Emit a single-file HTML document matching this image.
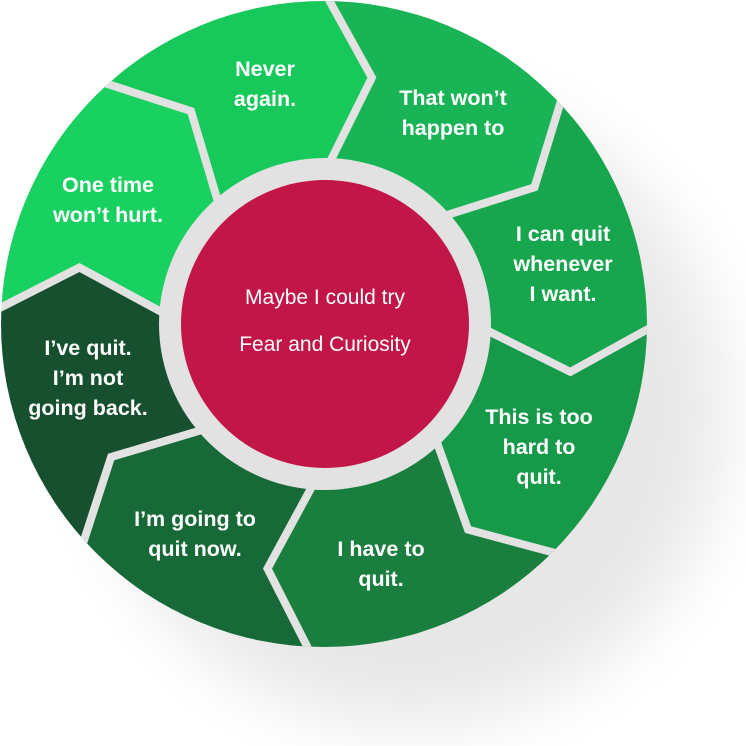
<!DOCTYPE html>
<html><head><meta charset="utf-8"><style>
html,body{margin:0;padding:0;background:#fff;width:746px;height:746px;overflow:hidden}
svg{display:block}
.t{font-family:"Liberation Sans",sans-serif;font-weight:bold;font-size:21.5px;fill:#fff;text-anchor:middle}
.c{font-family:"Liberation Sans",sans-serif;font-size:21px;fill:#fff;text-anchor:middle}
</style></head><body>
<svg id="s" width="746" height="746" viewBox="0 0 746 746" xmlns="http://www.w3.org/2000/svg">
<defs>
<filter id="bl" x="-50%" y="-50%" width="200%" height="200%"><feGaussianBlur stdDeviation="35"/></filter>
<clipPath id="cp"><circle cx="324" cy="324" r="323"/></clipPath>
</defs>
<circle cx="410" cy="410" r="315" fill="#000" opacity="0.09" filter="url(#bl)"/>
<g id="segs" clip-path="url(#cp)"></g>
<circle cx="325" cy="324" r="166" fill="#e2e2e2"/>
<circle cx="325" cy="324" r="144" fill="#c11647"/>
<text class="c" x="325" y="304">Maybe I could try</text>
<text class="c" x="325" y="351">Fear and Curiosity</text>
<text class="t" x="265" y="76">Never</text><text class="t" x="265" y="106">again.</text>
<text class="t" x="453" y="105">That won’t</text><text class="t" x="453" y="135">happen to</text>
<text class="t" x="108" y="192">One time</text><text class="t" x="108" y="222">won’t hurt.</text>
<text class="t" x="563" y="241">I can quit</text><text class="t" x="563" y="271">whenever</text><text class="t" x="563" y="301">I want.</text>
<text class="t" x="88" y="355">I’ve quit.</text><text class="t" x="88" y="385">I’m not</text><text class="t" x="88" y="415">going back.</text>
<text class="t" x="539" y="424">This is too</text><text class="t" x="539" y="454">hard to</text><text class="t" x="539" y="484">quit.</text>
<text class="t" x="195" y="526">I’m going to</text><text class="t" x="195" y="556">quit now.</text>
<text class="t" x="381" y="556">I have to</text><text class="t" x="381" y="586">quit.</text>
</svg>
<script>
(function(){
var cx=324,cy=324,R=323,RT=251,RI=150,OFF=11;
var b=[182,227,270,316,360,404,452,497,542];
var cols=["#18d160","#17c95b","#18b455","#17a64e","#17994a","#197e3e","#176a37","#17502e"];
function p(r,a){a=a*Math.PI/180;return (cx+r*Math.cos(a)).toFixed(1)+","+(cy+r*Math.sin(a)).toFixed(1);}
var g=document.getElementById("segs"),h="";
for(var i=0;i<8;i++){
 var a0=b[i],a1=b[i+1];
 var d="M"+p(R+2,a0)+" A"+(R+2)+","+(R+2)+" 0 0 1 "+p(R+2,a1)+" L"+p(RT,a1+OFF)+" L"+p(RI,a1)+" A"+RI+","+RI+" 0 0 0 "+p(RI,a0)+" L"+p(RT,a0+OFF)+" Z";
 h+='<path d="'+d+'" fill="'+cols[i]+'"/>';
}
for(var i=0;i<8;i++){
 var a=b[i];
 h+='<polyline points="'+p(R+10,a)+" "+p(RT,a+OFF)+" "+p(RI,a)+'" fill="none" stroke="#e2e2e2" stroke-width="8" stroke-linejoin="miter"/>';
}
g.innerHTML=h;
})();
</script>
</body></html>
